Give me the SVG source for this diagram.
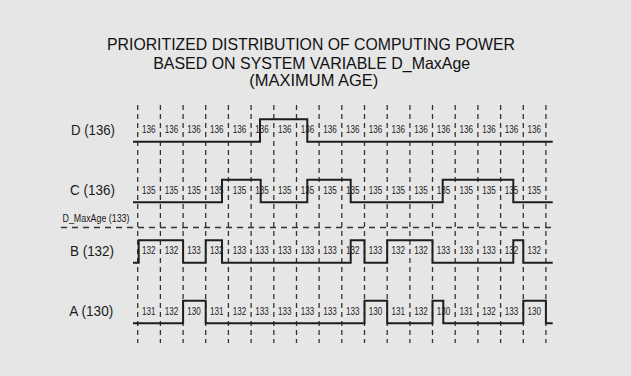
<svg xmlns="http://www.w3.org/2000/svg" width="631" height="376" viewBox="0 0 631 376">
<style>
.bg{fill:#e6e6e6}
.title{font-family:"Liberation Sans",Arial,sans-serif;font-size:16.5px;fill:#111;text-anchor:middle}
.row{font-family:"Liberation Sans",Arial,sans-serif;font-size:15px;fill:#1a1a1a}
.small{font-family:"Liberation Sans",Arial,sans-serif;font-size:10.5px;fill:#1a1a1a}
.d{font-family:"Liberation Sans",Arial,sans-serif;font-size:10.5px;fill:#222;text-anchor:middle}
.grid{stroke:#333;stroke-width:1.3;stroke-dasharray:5 4;fill:none}
.hgrid{stroke:#333;stroke-width:1.3;stroke-dasharray:6 5;fill:none}
.sig{stroke:#1e1e1e;stroke-width:2;fill:none;stroke-linejoin:miter}
</style>
<rect class="bg" x="0" y="0" width="631" height="376"/>
<g id="title">
<text class="title" x="311" y="50" textLength="408" lengthAdjust="spacingAndGlyphs">PRIORITIZED DISTRIBUTION OF COMPUTING POWER</text>
<text class="title" x="311.7" y="68.5" textLength="317" lengthAdjust="spacingAndGlyphs">BASED ON SYSTEM VARIABLE D_MaxAge</text>
<text class="title" x="313.8" y="86" textLength="129" lengthAdjust="spacingAndGlyphs">(MAXIMUM AGE)</text>
</g>
<g id="connectors">
<g id="grid">
<path class="grid" d="M137.7,105V343M160.4,105V343M183.1,105V343M205.7,105V343M228.4,105V343M251.1,105V343M273.8,105V343M296.5,105V343M319.1,105V343M341.8,105V343M364.5,105V343M387.2,105V343M409.9,105V343M432.5,105V343M455.2,105V343M477.9,105V343M500.6,105V343M523.3,105V343M545.9,105V343"/>
<path class="hgrid" d="M61,227.5H554"/>
</g>
</g>
<g id="maxage">
<text class="small" x="62.5" y="222" textLength="67" lengthAdjust="spacingAndGlyphs">D_MaxAge (133)</text>
</g>
<g id="rowD">
<text class="row" x="71" y="134.7" textLength="44" lengthAdjust="spacingAndGlyphs">D (136)</text>
<path class="sig" d="M133,141.7H260V119.2H307.3V141.7H552.7"/>
<text class="d" x="148.7" y="133" textLength="13.5" lengthAdjust="spacingAndGlyphs">136</text>
<text class="d" x="171.4" y="133" textLength="13.5" lengthAdjust="spacingAndGlyphs">136</text>
<text class="d" x="194.1" y="133" textLength="13.5" lengthAdjust="spacingAndGlyphs">136</text>
<text class="d" x="216.7" y="133" textLength="13.5" lengthAdjust="spacingAndGlyphs">136</text>
<text class="d" x="239.4" y="133" textLength="13.5" lengthAdjust="spacingAndGlyphs">136</text>
<text class="d" x="262.1" y="133" textLength="13.5" lengthAdjust="spacingAndGlyphs">136</text>
<text class="d" x="284.8" y="133" textLength="13.5" lengthAdjust="spacingAndGlyphs">136</text>
<text class="d" x="307.5" y="133" textLength="13.5" lengthAdjust="spacingAndGlyphs">136</text>
<text class="d" x="330.1" y="133" textLength="13.5" lengthAdjust="spacingAndGlyphs">136</text>
<text class="d" x="352.8" y="133" textLength="13.5" lengthAdjust="spacingAndGlyphs">136</text>
<text class="d" x="375.5" y="133" textLength="13.5" lengthAdjust="spacingAndGlyphs">136</text>
<text class="d" x="398.2" y="133" textLength="13.5" lengthAdjust="spacingAndGlyphs">136</text>
<text class="d" x="420.9" y="133" textLength="13.5" lengthAdjust="spacingAndGlyphs">136</text>
<text class="d" x="443.5" y="133" textLength="13.5" lengthAdjust="spacingAndGlyphs">136</text>
<text class="d" x="466.2" y="133" textLength="13.5" lengthAdjust="spacingAndGlyphs">136</text>
<text class="d" x="488.9" y="133" textLength="13.5" lengthAdjust="spacingAndGlyphs">136</text>
<text class="d" x="511.6" y="133" textLength="13.5" lengthAdjust="spacingAndGlyphs">136</text>
<text class="d" x="534.3" y="133" textLength="13.5" lengthAdjust="spacingAndGlyphs">136</text>
</g>
<g id="rowC">
<text class="row" x="70" y="195.2" textLength="45" lengthAdjust="spacingAndGlyphs">C (136)</text>
<path class="sig" d="M133,202.2H222V179.7H260.7V202.2H307.3V179.7H350.7V202.2H442.7V179.7H513.3V202.2H552.7"/>
<text class="d" x="148.7" y="193.5" textLength="13.5" lengthAdjust="spacingAndGlyphs">135</text>
<text class="d" x="171.4" y="193.5" textLength="13.5" lengthAdjust="spacingAndGlyphs">135</text>
<text class="d" x="194.1" y="193.5" textLength="13.5" lengthAdjust="spacingAndGlyphs">135</text>
<text class="d" x="216.7" y="193.5" textLength="13.5" lengthAdjust="spacingAndGlyphs">135</text>
<text class="d" x="239.4" y="193.5" textLength="13.5" lengthAdjust="spacingAndGlyphs">135</text>
<text class="d" x="262.1" y="193.5" textLength="13.5" lengthAdjust="spacingAndGlyphs">135</text>
<text class="d" x="284.8" y="193.5" textLength="13.5" lengthAdjust="spacingAndGlyphs">135</text>
<text class="d" x="307.5" y="193.5" textLength="13.5" lengthAdjust="spacingAndGlyphs">135</text>
<text class="d" x="330.1" y="193.5" textLength="13.5" lengthAdjust="spacingAndGlyphs">135</text>
<text class="d" x="352.8" y="193.5" textLength="13.5" lengthAdjust="spacingAndGlyphs">135</text>
<text class="d" x="375.5" y="193.5" textLength="13.5" lengthAdjust="spacingAndGlyphs">135</text>
<text class="d" x="398.2" y="193.5" textLength="13.5" lengthAdjust="spacingAndGlyphs">135</text>
<text class="d" x="420.9" y="193.5" textLength="13.5" lengthAdjust="spacingAndGlyphs">135</text>
<text class="d" x="443.5" y="193.5" textLength="13.5" lengthAdjust="spacingAndGlyphs">135</text>
<text class="d" x="466.2" y="193.5" textLength="13.5" lengthAdjust="spacingAndGlyphs">135</text>
<text class="d" x="488.9" y="193.5" textLength="13.5" lengthAdjust="spacingAndGlyphs">135</text>
<text class="d" x="511.6" y="193.5" textLength="13.5" lengthAdjust="spacingAndGlyphs">135</text>
<text class="d" x="534.3" y="193.5" textLength="13.5" lengthAdjust="spacingAndGlyphs">135</text>
</g>
<g id="rowB">
<text class="row" x="70" y="255.7" textLength="44" lengthAdjust="spacingAndGlyphs">B (132)</text>
<path class="sig" d="M133,262.7H138.7V240.2H183.1V262.7H205.7V240.2H222V262.7H350.7V240.2H364.5V262.7H387.2V240.2H432.5V262.7H513.3V240.2H523.3V262.7H552.7"/>
<text class="d" x="148.7" y="254" textLength="13.5" lengthAdjust="spacingAndGlyphs">132</text>
<text class="d" x="171.4" y="254" textLength="13.5" lengthAdjust="spacingAndGlyphs">132</text>
<text class="d" x="194.1" y="254" textLength="13.5" lengthAdjust="spacingAndGlyphs">133</text>
<text class="d" x="216.7" y="254" textLength="13.5" lengthAdjust="spacingAndGlyphs">132</text>
<text class="d" x="239.4" y="254" textLength="13.5" lengthAdjust="spacingAndGlyphs">133</text>
<text class="d" x="262.1" y="254" textLength="13.5" lengthAdjust="spacingAndGlyphs">133</text>
<text class="d" x="284.8" y="254" textLength="13.5" lengthAdjust="spacingAndGlyphs">133</text>
<text class="d" x="307.5" y="254" textLength="13.5" lengthAdjust="spacingAndGlyphs">133</text>
<text class="d" x="330.1" y="254" textLength="13.5" lengthAdjust="spacingAndGlyphs">133</text>
<text class="d" x="352.8" y="254" textLength="13.5" lengthAdjust="spacingAndGlyphs">132</text>
<text class="d" x="375.5" y="254" textLength="13.5" lengthAdjust="spacingAndGlyphs">133</text>
<text class="d" x="398.2" y="254" textLength="13.5" lengthAdjust="spacingAndGlyphs">132</text>
<text class="d" x="420.9" y="254" textLength="13.5" lengthAdjust="spacingAndGlyphs">132</text>
<text class="d" x="443.5" y="254" textLength="13.5" lengthAdjust="spacingAndGlyphs">133</text>
<text class="d" x="466.2" y="254" textLength="13.5" lengthAdjust="spacingAndGlyphs">133</text>
<text class="d" x="488.9" y="254" textLength="13.5" lengthAdjust="spacingAndGlyphs">133</text>
<text class="d" x="511.6" y="254" textLength="13.5" lengthAdjust="spacingAndGlyphs">132</text>
<text class="d" x="534.3" y="254" textLength="13.5" lengthAdjust="spacingAndGlyphs">132</text>
</g>
<g id="rowA">
<text class="row" x="69.3" y="316.2" textLength="44" lengthAdjust="spacingAndGlyphs">A (130)</text>
<path class="sig" d="M133,323.2H183.1V300.7H205.7V323.2H364.5V300.7H387.2V323.2H432.5V300.7H443.3V323.2H523.3V300.7H545.9V323.2H552.7"/>
<text class="d" x="148.7" y="314.5" textLength="13.5" lengthAdjust="spacingAndGlyphs">131</text>
<text class="d" x="171.4" y="314.5" textLength="13.5" lengthAdjust="spacingAndGlyphs">132</text>
<text class="d" x="194.1" y="314.5" textLength="13.5" lengthAdjust="spacingAndGlyphs">130</text>
<text class="d" x="216.7" y="314.5" textLength="13.5" lengthAdjust="spacingAndGlyphs">131</text>
<text class="d" x="239.4" y="314.5" textLength="13.5" lengthAdjust="spacingAndGlyphs">132</text>
<text class="d" x="262.1" y="314.5" textLength="13.5" lengthAdjust="spacingAndGlyphs">133</text>
<text class="d" x="284.8" y="314.5" textLength="13.5" lengthAdjust="spacingAndGlyphs">133</text>
<text class="d" x="307.5" y="314.5" textLength="13.5" lengthAdjust="spacingAndGlyphs">133</text>
<text class="d" x="330.1" y="314.5" textLength="13.5" lengthAdjust="spacingAndGlyphs">133</text>
<text class="d" x="352.8" y="314.5" textLength="13.5" lengthAdjust="spacingAndGlyphs">133</text>
<text class="d" x="375.5" y="314.5" textLength="13.5" lengthAdjust="spacingAndGlyphs">130</text>
<text class="d" x="398.2" y="314.5" textLength="13.5" lengthAdjust="spacingAndGlyphs">131</text>
<text class="d" x="420.9" y="314.5" textLength="13.5" lengthAdjust="spacingAndGlyphs">132</text>
<text class="d" x="443.5" y="314.5" textLength="13.5" lengthAdjust="spacingAndGlyphs">130</text>
<text class="d" x="466.2" y="314.5" textLength="13.5" lengthAdjust="spacingAndGlyphs">131</text>
<text class="d" x="488.9" y="314.5" textLength="13.5" lengthAdjust="spacingAndGlyphs">132</text>
<text class="d" x="511.6" y="314.5" textLength="13.5" lengthAdjust="spacingAndGlyphs">133</text>
<text class="d" x="534.3" y="314.5" textLength="13.5" lengthAdjust="spacingAndGlyphs">130</text>
</g>
</svg>
